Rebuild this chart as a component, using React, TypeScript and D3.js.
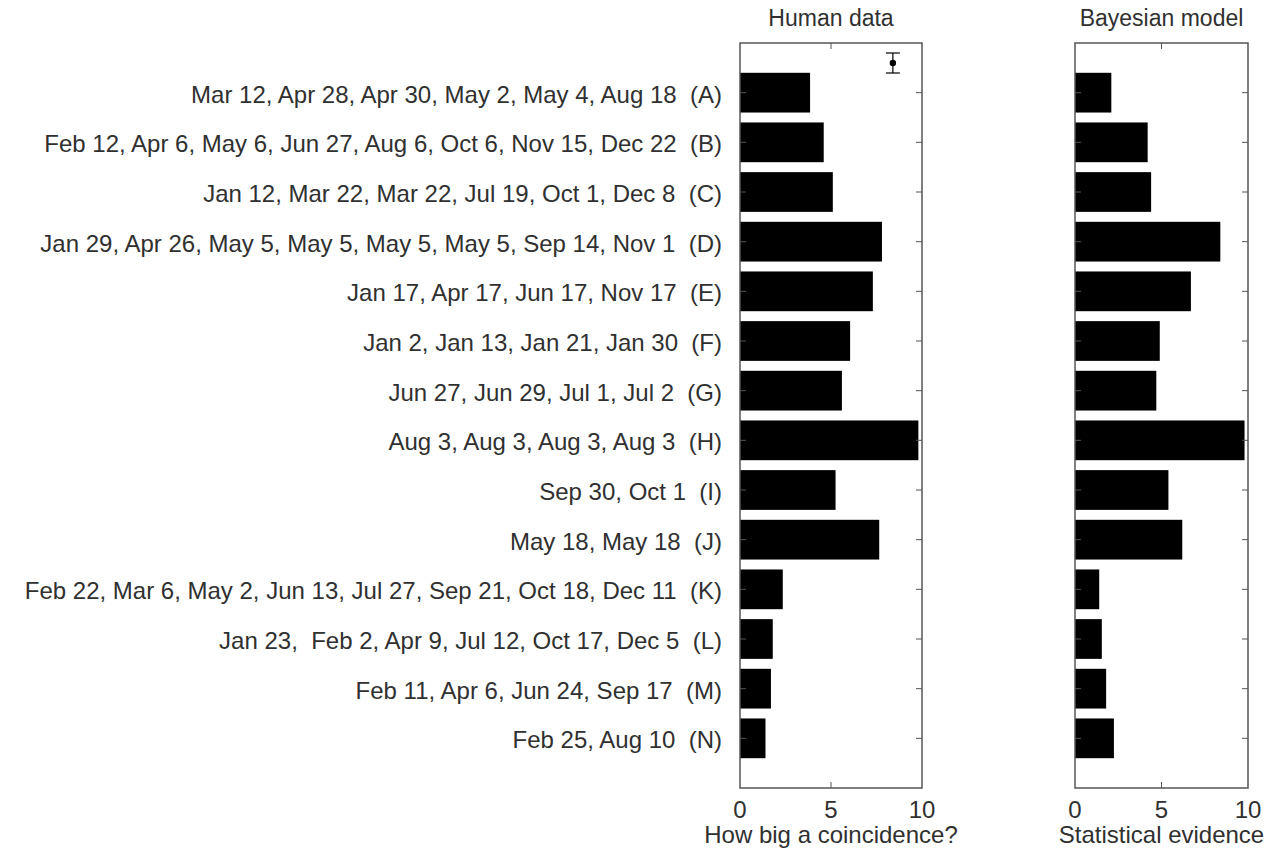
import React from "react";
import * as d3 from "d3";

// Sets of dates, each tagged with a letter
const dateSets = [
  "Mar 12, Apr 28, Apr 30, May 2, May 4, Aug 18",
  "Feb 12, Apr 6, May 6, Jun 27, Aug 6, Oct 6, Nov 15, Dec 22",
  "Jan 12, Mar 22, Mar 22, Jul 19, Oct 1, Dec 8",
  "Jan 29, Apr 26, May 5, May 5, May 5, May 5, Sep 14, Nov 1",
  "Jan 17, Apr 17, Jun 17, Nov 17",
  "Jan 2, Jan 13, Jan 21, Jan 30",
  "Jun 27, Jun 29, Jul 1, Jul 2",
  "Aug 3, Aug 3, Aug 3, Aug 3",
  "Sep 30, Oct 1",
  "May 18, May 18",
  "Feb 22, Mar 6, May 2, Jun 13, Jul 27, Sep 21, Oct 18, Dec 11",
  "Jan 23,  Feb 2, Apr 9, Jul 12, Oct 17, Dec 5",
  "Feb 11, Apr 6, Jun 24, Sep 17",
  "Feb 25, Aug 10",
];
const setLetters = ["A", "B", "C", "D", "E", "F", "G", "H", "I", "J", "K", "L", "M", "N"];

// Mean human ratings of coincidence strength
const humanRatings = [3.85, 4.6, 5.1, 7.8, 7.3, 6.05, 5.6, 9.8, 5.25, 7.65, 2.35, 1.8, 1.7, 1.4];
// Model log evidence (scaled 0-10)
const modelEvidence = [2.1, 4.2, 4.4, 8.4, 6.7, 4.9, 4.7, 9.8, 5.4, 6.2, 1.4, 1.55, 1.8, 2.25];

const xTicks = [0, 5, 10];
// Typical standard error shown in the corner of the human panel
const errorBar = { x: 8.4, mean: 0.4, low: 0.0, high: 0.8 };

const FONT = "'Liberation Sans', Arial, Helvetica, sans-serif";
const FS = 24;
const TEXT = "#303030";
const FRAME = "#555";

const top = 43;
const bottom = 788;
const y = d3.scaleLinear().domain([0, 15]).range([top, bottom]);
const barH = 0.8 * (y(1) - y(0));

type PanelProps = {
  x0: number;
  x1: number;
  values: number[];
  title: string;
  xlabel: string;
  children?: React.ReactNode;
};

function Panel({ x0, x1, values, title, xlabel, children }: PanelProps) {
  const x = d3.scaleLinear().domain([0, 10]).range([x0, x1]);
  const mid = (x0 + x1) / 2;
  const tickLen = 6;
  return (
    <g>
      <text x={mid} y={26} textAnchor="middle" fontSize={FS - 1} fill={TEXT} fontFamily={FONT}>
        {title}
      </text>
      {values.map((v, i) => (
        <rect
          key={i}
          x={x(0)}
          y={y(i + 1) - barH / 2}
          width={x(v) - x(0)}
          height={barH}
          fill="#000"
        />
      ))}
      <rect x={x0} y={top} width={x1 - x0} height={bottom - top} fill="none" stroke={FRAME} strokeWidth={1.5} />
      {values.map((_, i) => (
        <g key={"t" + i} stroke={FRAME} strokeWidth={1}>
          <line x1={x1} x2={x1 - tickLen} y1={y(i + 1)} y2={y(i + 1)} />
          <line x1={x0} x2={x0 + tickLen} y1={y(i + 1)} y2={y(i + 1)} />
        </g>
      ))}
      {xTicks.map((t) => (
        <g key={"x" + t}>
          {t > 0 && t < 10 && (
            <g stroke={FRAME} strokeWidth={1}>
              <line x1={x(t)} x2={x(t)} y1={top} y2={top + tickLen} />
              <line x1={x(t)} x2={x(t)} y1={bottom} y2={bottom - tickLen} />
            </g>
          )}
          <text x={x(t)} y={818} textAnchor="middle" fontSize={FS} fill={TEXT} fontFamily={FONT}>
            {t}
          </text>
        </g>
      ))}
      <text x={mid} y={843} textAnchor="middle" fontSize={FS} fill={TEXT} fontFamily={FONT}>
        {xlabel}
      </text>
      {children}
    </g>
  );
}

export default function App() {
  const xh = d3.scaleLinear().domain([0, 10]).range([740, 922]);
  const ey = d3.scaleLinear().domain([0, 0.8]).range([53, 73]);
  return (
    <svg width={1266} height={853} style={{ display: "block", position: "absolute", left: 0, top: 0 }}>
      <rect width={1266} height={853} fill="#fff" />
      {dateSets.map((s, i) => (
        <text
          key={i}
          x={722}
          y={y(i + 1) + 10}
          textAnchor="end"
          fontSize={FS}
          fill={TEXT}
          fontFamily={FONT}
          style={{ whiteSpace: "pre" }}
        >
          {`${s}  (${setLetters[i]})`}
        </text>
      ))}
      <Panel x0={740} x1={922} values={humanRatings} title="Human data" xlabel="How big a coincidence?">
        <g stroke="#000" strokeWidth={1.2}>
          <line x1={xh(errorBar.x)} x2={xh(errorBar.x)} y1={ey(errorBar.low)} y2={ey(errorBar.high)} />
          <line x1={xh(errorBar.x) - 7} x2={xh(errorBar.x) + 7} y1={ey(errorBar.low)} y2={ey(errorBar.low)} />
          <line x1={xh(errorBar.x) - 7} x2={xh(errorBar.x) + 7} y1={ey(errorBar.high)} y2={ey(errorBar.high)} />
        </g>
        <circle cx={xh(errorBar.x)} cy={ey(errorBar.mean)} r={3.2} fill="#000" />
      </Panel>
      <Panel x0={1075} x1={1248} values={modelEvidence} title="Bayesian model" xlabel="Statistical evidence" />
    </svg>
  );
}
